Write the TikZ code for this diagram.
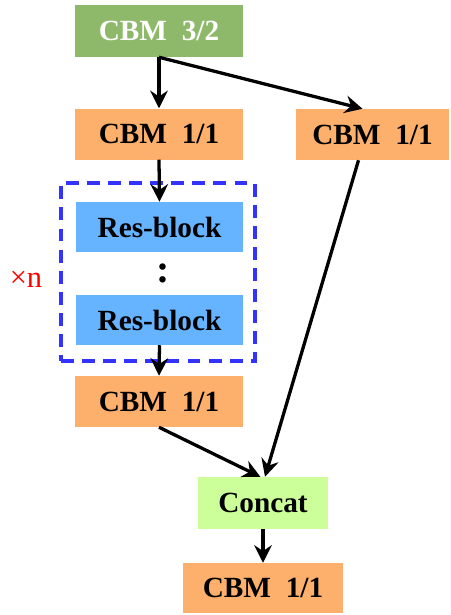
\documentclass[tikz,border=0pt]{standalone}
\usepackage{fontspec}
\setmainfont{Liberation Serif}
\usepackage{tikz}
\usetikzlibrary{arrows.meta}

\definecolor{cbmgreen}{HTML}{8EB96A}
\definecolor{cbmorange}{HTML}{FDB06B}
\definecolor{resblue}{HTML}{66B3FF}
\definecolor{catgreen}{HTML}{CCFF99}
\definecolor{fenceblue}{HTML}{3333FF}

\begin{document}
\begin{tikzpicture}[
				x=0.03cm, y=-0.03cm,
				every node/.style={inner sep=0pt, font=\fontsize{25}{30}\selectfont\bfseries},
				box/.style={rectangle, minimum width=5.04cm, minimum height=1.53cm},
				cbm/.style={box, fill=cbmorange},
				res/.style={box, fill=resblue, minimum width=5.01cm, minimum height=1.5cm},
				arrow/.style={-{Stealth[length=15pt, width=15pt, inset=5pt]}, line width=2.8pt}
			]
			\useasboundingbox (0,0) rectangle (451,615);

			% Nodes
			\node[box, fill=cbmgreen, text=white, minimum height=1.56cm] (top) at (159,31) {CBM~~3/2};
			\node[cbm] (left) at (159,134) {CBM~~1/1};
			\node[cbm, minimum width=4.59cm] (right) at (372.5,134.5) {CBM~~1/1};

			\node[res] (res1) at (159.5,227) {Res-block};
			\node[res] (res2) at (159.5,320) {Res-block};
			\node[font=\fontsize{34}{40}\selectfont\bfseries] (dots) at (163,273) {:};
			\node[draw=fenceblue, line width=3.6pt, dash pattern=on 11pt off 7pt,
				minimum width=5.82cm, minimum height=5.34cm] (fence) at (158,272) {};
			\node[font=\fontsize{26}{30}\selectfont, text=red] (times) at (26,279) {×n};

			\node[cbm] (mid) at (159,401.5) {CBM~~1/1};
			\node[box, fill=catgreen, minimum width=3.9cm, minimum height=1.56cm] (concat) at (263,503) {Concat};
			\node[cbm, minimum width=4.77cm, minimum height=1.5cm] (out) at (263,588) {CBM~~1/1};

			% Arrows
			\draw[arrow] (top.south) -- (left.north);
			\draw[arrow] (top.south) -- ([xshift=-0.3cm]right.north);
			\draw[arrow] (left.south) -- (res1.north);
			\draw[arrow] (res2.south) -- (mid.north);
			\draw[arrow] (mid.south) -- ([xshift=-0.08cm]concat.north);
			\draw[arrow] ([xshift=-0.42cm]right.south) -- ([xshift=0.06cm]concat.north);
			\draw[arrow] (concat.south) -- (out.north);

		\end{tikzpicture}
\end{document}
